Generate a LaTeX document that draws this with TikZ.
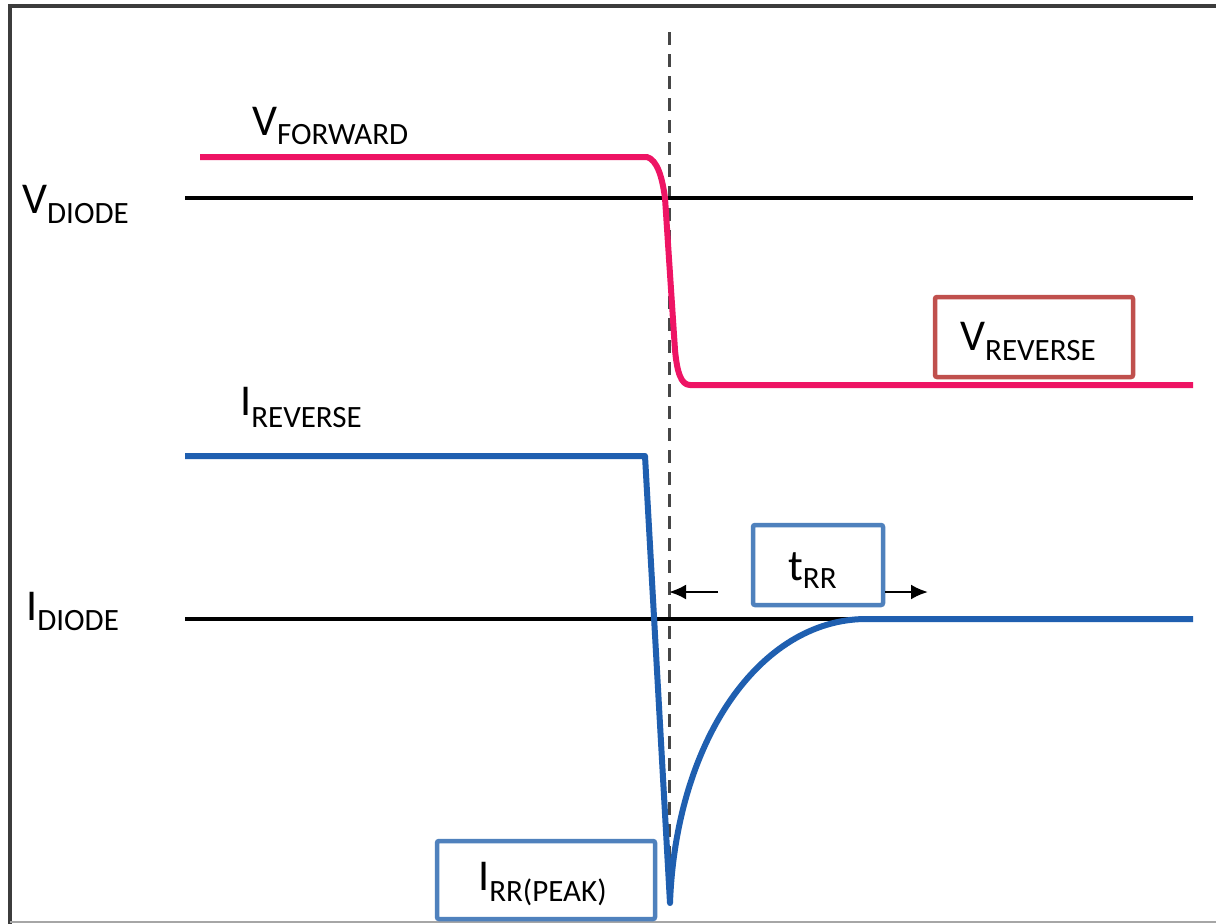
\documentclass[tikz,border=0pt]{standalone}
\usepackage{fontspec}
\setmainfont{Carlito}
\usetikzlibrary{arrows.meta}

\definecolor{vcurve}{RGB}{238,20,100}
\definecolor{icurve}{RGB}{31,95,176}
\definecolor{redbox}{RGB}{192,80,77}
\definecolor{bluebox}{RGB}{79,129,189}
\definecolor{framegray}{RGB}{60,60,60}
\definecolor{dashgray}{RGB}{70,70,70}

% symbol with a large main letter and a lowered subscript word
\newcommand{\sym}[3]{{\fontsize{44}{50}\selectfont #1}\raisebox{-#3pt}{\fontsize{31}{36}\selectfont #2}}

\tikzset{
  axisline/.style={line width=3.5pt, black},
  vwave/.style={line width=6pt, vcurve, line join=round},
  iwave/.style={line width=6pt, icurve, line join=round},
  markline/.style={line width=3pt, dashgray, dash pattern=on 13pt off 9pt},
  lbl/.style={anchor=base west, inner sep=0pt, text=black},
  tagbox/.style={draw, line width=4.5pt, rounded corners=2pt, fill=white},
  spanarrow/.style={line width=2.5pt, -{Latex[length=17pt,width=15pt]}}
}

\begin{document}
\begin{tikzpicture}[x=1pt,y=-1pt]
  \useasboundingbox (0,0) rectangle (1216,924);
  \fill[white] (0,0) rectangle (1216,924);

  % outer frame (open on the right)
  \draw[line width=3.5pt, framegray] (1216,6) -- (10,6) -- (10,924);
  \draw[line width=2pt, gray!70] (10,922) -- (1216,922);

  % switching instant
  \coordinate (mtop) at (669,32);
  \coordinate (mbot) at (669,905);
  \draw[markline] (mtop) -- (mbot);

  % zero axes
  \coordinate (va0) at (185,198);
  \coordinate (va1) at (1193,198);
  \coordinate (ia0) at (185,619);
  \coordinate (ia1) at (1193,619);
  \draw[axisline] (va0) -- (va1);
  \draw[axisline] (ia0) -- (ia1);

  % diode voltage
  \draw[vwave] (200,157) -- (647,157)
     .. controls (657,160) and (662,176) .. (665,198)
     -- (675,350)
     .. controls (677,372) and (681,385) .. (690,385)
     -- (1193,385);

  % diode current
  \draw[iwave] (185,456) -- (645,456) -- (670,903)
     .. controls (676,740) and (760,620) .. (865,619)
     -- (1193,619);

  % labels
  \node[lbl] (vfwd) at (252,135) {\sym{V}{FORWARD}{9}};
  \node[lbl] (vdiode) at (22,213) {\sym{V}{DIODE}{10}};
  \node[lbl] (irev) at (240,415) {\sym{I}{REVERSE}{12}};
  \node[lbl] (idiode) at (26,620) {\sym{I}{DIODE}{10}};

  % boxed labels
  \node[tagbox, draw=redbox, minimum width=198pt, minimum height=80pt] (vrevbox) at (1034,337) {};
  \node[lbl] (vrev) at (960,350) {\sym{V}{REVERSE}{10}};

  \node[tagbox, draw=bluebox, minimum width=130pt, minimum height=80pt] (trrbox) at (818,565) {};
  \node[lbl] (trr) at (788,580) {\sym{t}{RR}{8}};

  \node[tagbox, draw=bluebox, minimum width=218pt, minimum height=78pt] (ipkbox) at (546,880) {};
  \node[lbl] (ipk) at (478,890) {\sym{I}{RR(PEAK)}{11}};

  % recovery time span arrows
  \coordinate (tl) at (718,592);
  \coordinate (tr) at (928,592);
  \draw[spanarrow] (tl) -- (mtop |- tl);
  \draw[spanarrow] (trrbox.east |- tr) -- (tr);
\end{tikzpicture}
\end{document}
